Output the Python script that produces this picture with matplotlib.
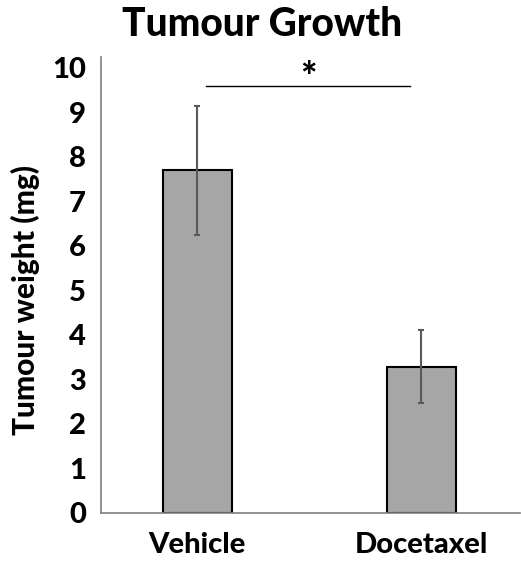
import matplotlib

matplotlib.use("Agg")
import matplotlib.pyplot as plt

groups = ["Vehicle", "Docetaxel"]
weights = [7.7, 3.28]
errors = [1.45, 0.82]
y_ticks = list(range(0, 11))
sig_span = (0.04, 0.95)
sig_level = 9.6

plt.rcParams["font.family"] = ["Lato", "DejaVu Sans"]
W = "black"

fig = plt.figure(figsize=(5.21, 5.63), dpi=100)
ax = fig.add_axes([0.194, 0.089, 0.804, 0.81])

x = range(len(groups))
ax.bar(x, weights, width=0.31, color="#a6a6a6", edgecolor="black", linewidth=1.5, zorder=2)
ax.errorbar(x, weights, yerr=errors, fmt="none", ecolor="#595959", elinewidth=1.5,
            capsize=2.5, capthick=1.5, zorder=3)

ax.plot(sig_span, [sig_level, sig_level], color="black", lw=1)
ax.text(sum(sig_span) / 2, sig_level - 0.27, "*", ha="center", va="bottom",
        fontsize=28, fontweight=W)

ax.set_xlim(-0.43, 1.44)
ax.set_ylim(0, 10.25)
ax.set_yticks(y_ticks)
ax.set_xticks(list(x))
ax.set_xticklabels(groups)
ax.tick_params(axis="y", length=0, labelsize=21, pad=11)
ax.tick_params(axis="x", length=0, labelsize=21, pad=14)
for lbl in ax.get_xticklabels() + ax.get_yticklabels():
    lbl.set_fontweight(W)
ax.set_ylabel("Tumour weight (mg)", fontsize=21.5, fontweight=W)
ax.yaxis.set_label_coords(-0.146, 0.467)
fig.text(0.503, 0.936, "Tumour Growth", ha="center", va="baseline",
         fontsize=28, fontweight=W)

for side in ("top", "right"):
    ax.spines[side].set_visible(False)
for side in ("left", "bottom"):
    ax.spines[side].set_color("#7f7f7f")
    ax.spines[side].set_linewidth(1.2)

fig.savefig("out.png", dpi=100)
